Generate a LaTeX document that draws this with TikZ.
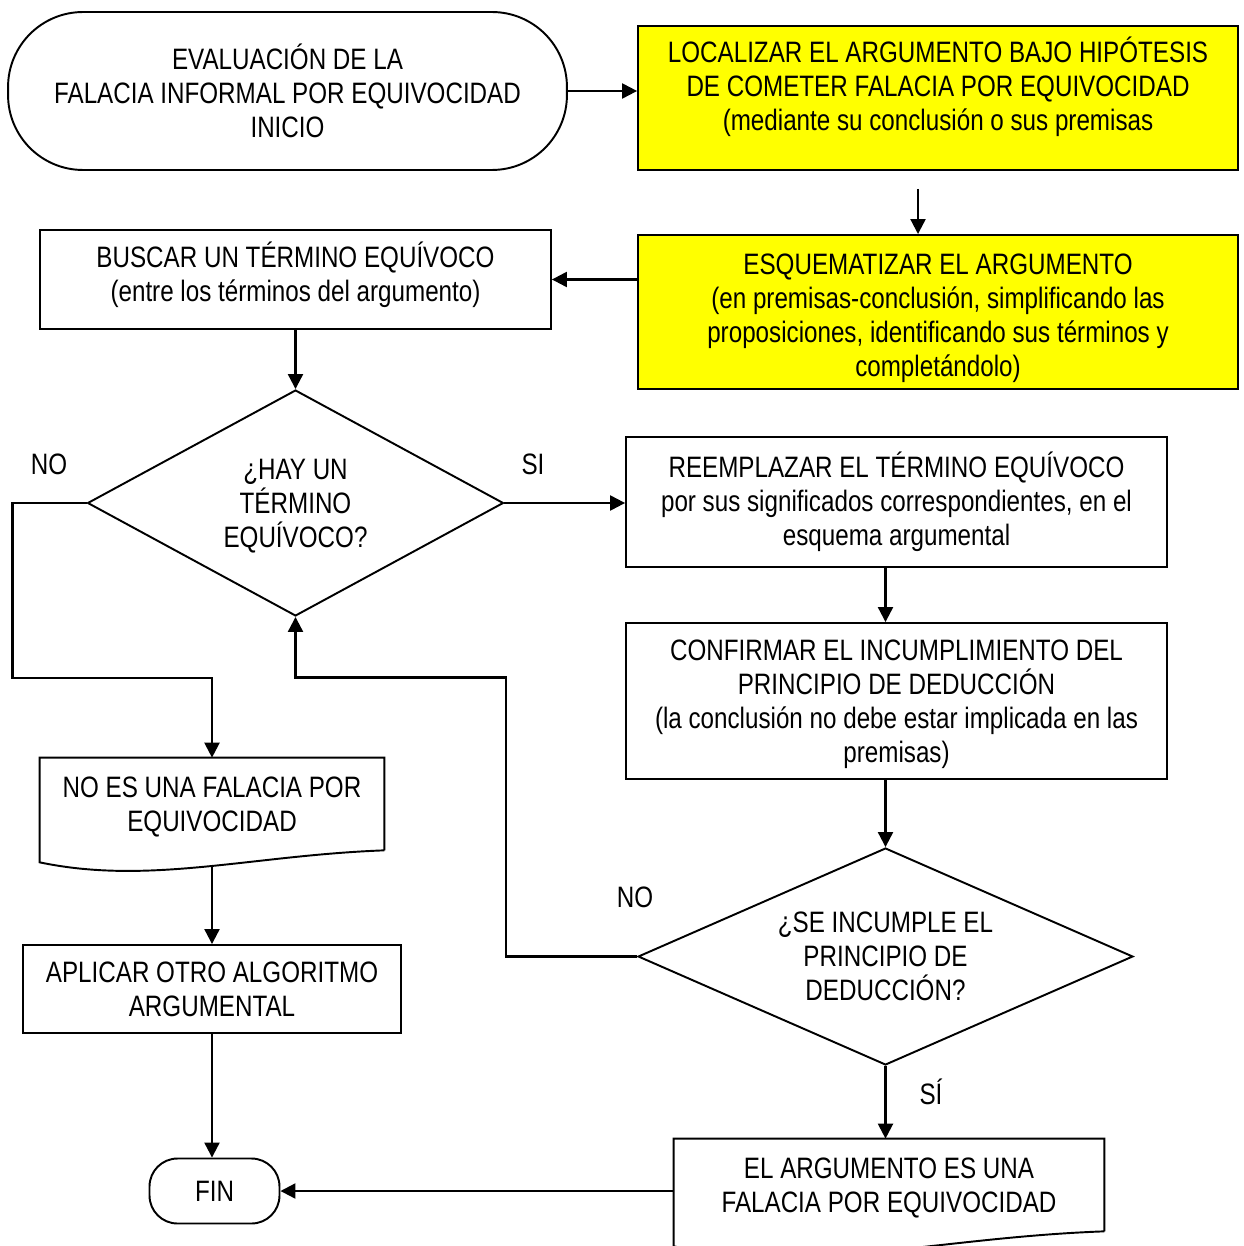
\documentclass[tikz,border=0pt]{standalone}
\usepackage{fontspec}
\setmainfont{Liberation Sans}[FakeStretch=0.82]
\usetikzlibrary{shapes.geometric,arrows.meta,calc}
\definecolor{yelbox}{RGB}{255,255,0}

\begin{document}
\begin{tikzpicture}[
  x=0.02cm,y=-0.02cm,
  every node/.style={font=\fontsize{16.8}{19.4}\selectfont},
  box/.style={rectangle,draw,line width=1.1pt,align=center,inner sep=0pt},
  term/.style={box,rounded corners=1.5cm},
  dec/.style={diamond,draw,line width=1.1pt,align=center,inner sep=0pt,text depth=-0.1cm},
  doc/.style={rectangle,align=center,inner sep=0pt,minimum width=#1},
  ln/.style={line width=1.25pt},
  arr/.style={ln,-{Triangle[length=0.3cm,width=0.3cm]}}
]
\useasboundingbox (0,0) rectangle (1243,1246);
\node[term,minimum width=11.18cm,minimum height=3.16cm] (start) at (287.5,91) {EVALUACIÓN DE LA\\FALACIA INFORMAL POR EQUIVOCIDAD\\INICIO};
\node[box,fill=yelbox,minimum width=12cm,minimum height=2.88cm,text depth=0.56cm] (loc) at (938,98) {LOCALIZAR EL ARGUMENTO BAJO HIPÓTESIS\\DE COMETER FALACIA POR EQUIVOCIDAD\\(mediante su conclusión o sus premisas};
\node[box,fill=yelbox,minimum width=12cm,minimum height=3.08cm,text height=2.6cm,text depth=-0.12cm] (esq) at (938,312) {ESQUEMATIZAR EL ARGUMENTO\\(en premisas-conclusión, simplificando las\\proposiciones, identificando sus términos y\\completándolo)};
\node[box,minimum width=10.22cm,minimum height=1.98cm,text depth=0.32cm] (bus) at (295.5,279.5) {BUSCAR UN TÉRMINO EQUÍVOCO\\(entre los términos del argumento)};
\node[dec,aspect=1.84,minimum width=8.32cm,minimum height=4.52cm] (hay) at (295.5,503) {¿HAY UN\\TÉRMINO\\EQUÍVOCO?};
\node[box,minimum width=10.82cm,minimum height=2.6cm] (ree) at (896.5,502) {REEMPLAZAR EL TÉRMINO EQUÍVOCO\\por sus significados correspondientes, en el\\esquema argumental};
\node[box,minimum width=10.82cm,minimum height=3.12cm,text depth=-0.04cm] (con) at (896.5,701) {CONFIRMAR EL INCUMPLIMIENTO DEL\\PRINCIPIO DE DEDUCCIÓN\\(la conclusión no debe estar implicada en las\\premisas)};
\node[dec,aspect=2.28,minimum width=9.9cm,minimum height=4.34cm] (inc) at (885.5,956.5) {¿SE INCUMPLE EL\\PRINCIPIO DE\\DEDUCCIÓN?};
\node[doc=6.88cm,minimum height=1.84cm,text depth=-0.12cm] (noes) at (212,804) {NO ES UNA FALACIA POR\\EQUIVOCIDAD};
\node[box,minimum width=7.56cm,minimum height=1.76cm] (apl) at (212,989) {APLICAR OTRO ALGORITMO\\ARGUMENTAL};
\node[doc=8.6cm,minimum height=1.84cm,text depth=-0.12cm] (esf) at (889,1185) {EL ARGUMENTO ES UNA\\FALACIA POR EQUIVOCIDAD};
\node[box,rounded corners=0.56cm,minimum width=2.6cm,minimum height=1.3cm] (fin) at (214.5,1191) {FIN};
\node (no1) at (49,464) {NO};
\node (si1) at (533,464) {SI};
\node (no2) at (635,897) {NO};
\node (si2) at (931,1092) {SÍ};
\draw[line width=1.1pt] (noes.south east) -- (noes.north east) -- (noes.north west) -- ($(noes.south west)+(0,12)$) .. controls +(110,23) and +(-134,5) .. (noes.south east);
\draw[line width=1.1pt] (esf.south east) -- (esf.north east) -- (esf.north west) -- ($(esf.south west)+(0,15)$) .. controls +(137,28) and +(-167,6) .. (esf.south east);
\foreach \a/\b in {start.east/start.east -| loc.west, esq.west |- bus.east/bus.east, bus/hay, hay.east/hay.east -| ree.west, apl.south/apl.south |- fin.north, ree.south -| inc.north/con.north -| inc.north, con.south -| inc.north/inc.north, inc.south/inc.south |- esf.north, fin -| esf.west/fin.east}{
  \draw[arr] (\a) -- (\b);
}
\draw[arr,shorten <=0.36cm] ([xshift=-0.4cm]loc.south) -- ([xshift=-0.4cm]esq.north);
\draw[arr] (hay.west) -- ++(-74,0) -- ++(0,175) -| (noes.north);
\draw[arr] ([yshift=-0.32cm]noes.south) -- (apl.north);
\draw[arr] (inc.west) -- ++(-131,0) -- ++(0,-279) -| (hay.south);
\end{tikzpicture}
\end{document}
